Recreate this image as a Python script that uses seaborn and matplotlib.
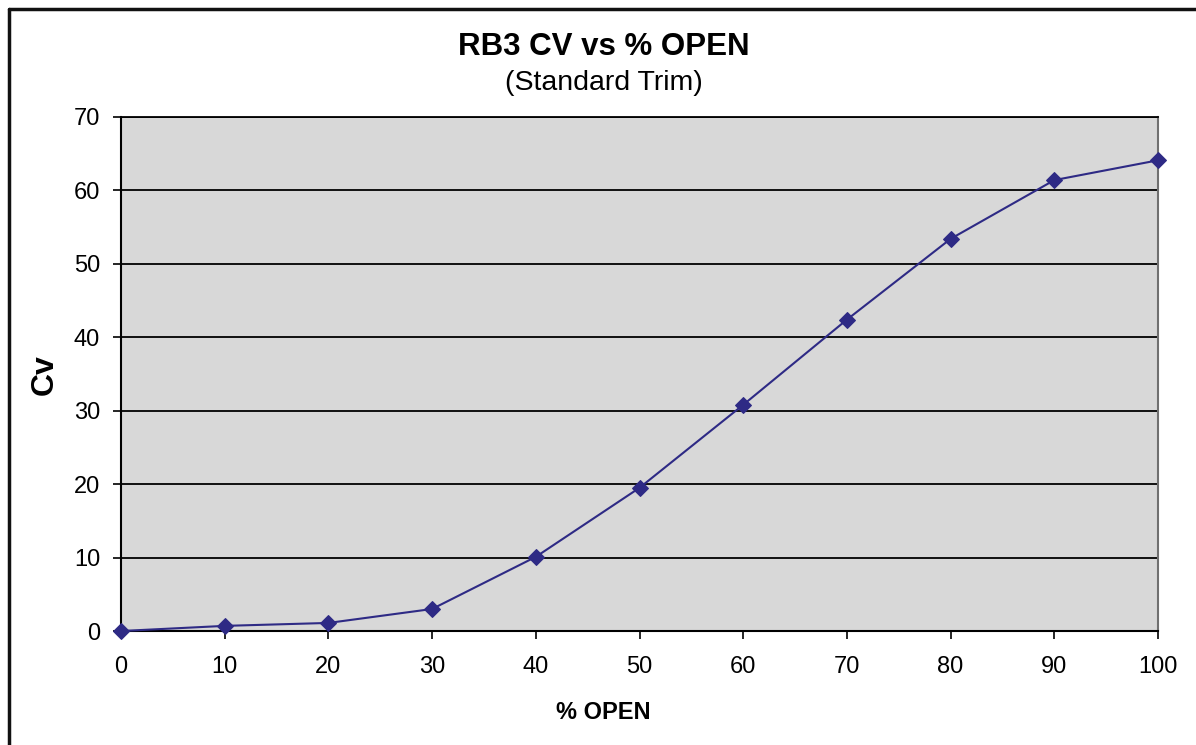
import matplotlib
matplotlib.use('Agg')
import matplotlib.pyplot as plt
from matplotlib.lines import Line2D
import seaborn as sns
import pandas as pd

# values
pct_open = [0, 10, 20, 30, 40, 50, 60, 70, 80, 90, 100]
cv = [0.0, 0.7, 1.1, 3.0, 10.1, 19.5, 30.8, 42.4, 53.4, 61.4, 64.1]

x_ticks = [0, 10, 20, 30, 40, 50, 60, 70, 80, 90, 100]
y_ticks = [0, 10, 20, 30, 40, 50, 60, 70]

df = pd.DataFrame({'pct_open': pct_open, 'cv': cv})

sns.set_style('white')
plt.rcParams['font.family'] = ['Liberation Sans', 'DejaVu Sans']
plt.rcParams['text.color'] = 'black'
plt.rcParams['axes.labelcolor'] = 'black'

fig = plt.figure(figsize=(11.96, 7.45), dpi=100)
ax = fig.add_axes([0.1012, 0.1530, 0.8670, 0.6900])
ax.set_facecolor('#d8d8d8')

sns.lineplot(x='pct_open', y='cv', data=df, ax=ax, color='#2e2a85',
             marker='D', markersize=8, markeredgecolor='#2e2a85',
             linewidth=1.5, zorder=5, clip_on=False)

ax.set_xlim(0, 100)
ax.set_ylim(0, 70)
ax.set_xticks(x_ticks)
ax.set_yticks(y_ticks)
ax.tick_params(axis='both', labelsize=17, colors='black', length=6, width=1.2,
               direction='out')
ax.tick_params(axis='x', pad=12, bottom=True)
ax.tick_params(axis='y', pad=9, left=True)

# excel style horizontal gridlines
ax.yaxis.grid(True, color='black', linewidth=1.3)
ax.xaxis.grid(False)
ax.set_axisbelow(True)

for side in ['left', 'bottom']:
    ax.spines[side].set_color('black')
    ax.spines[side].set_linewidth(1.5)
ax.spines['right'].set_color('#707070')
ax.spines['right'].set_linewidth(1.5)
ax.spines['top'].set_color('black')
ax.spines['top'].set_linewidth(1.3)

ax.set_xlabel('')
ax.set_ylabel('')
fig.text(0.5045, 0.043, '% OPEN', ha='center', va='center',
         fontsize=17, fontweight='bold', color='black')
fig.text(0.0376, 0.497, 'Cv', ha='center', va='center', rotation=90,
         fontsize=23, fontweight='bold', color='black')

fig.text(0.5045, 0.937, 'RB3 CV vs % OPEN', ha='center', va='center',
         fontsize=22.5, fontweight='bold', color='black')
fig.text(0.5045, 0.889, '(Standard Trim)', ha='center', va='center',
         fontsize=20.5, color='black')

# frame around the chart (only left and top edges visible)
fig.add_artist(Line2D([0.0075, 0.0075], [0.0, 0.988], color='#111111',
                      linewidth=2.5, transform=fig.transFigure))
fig.add_artist(Line2D([0.0075, 1.0], [0.988, 0.988], color='#111111',
                      linewidth=2.5, transform=fig.transFigure))

plt.savefig('out.png', dpi=100)
